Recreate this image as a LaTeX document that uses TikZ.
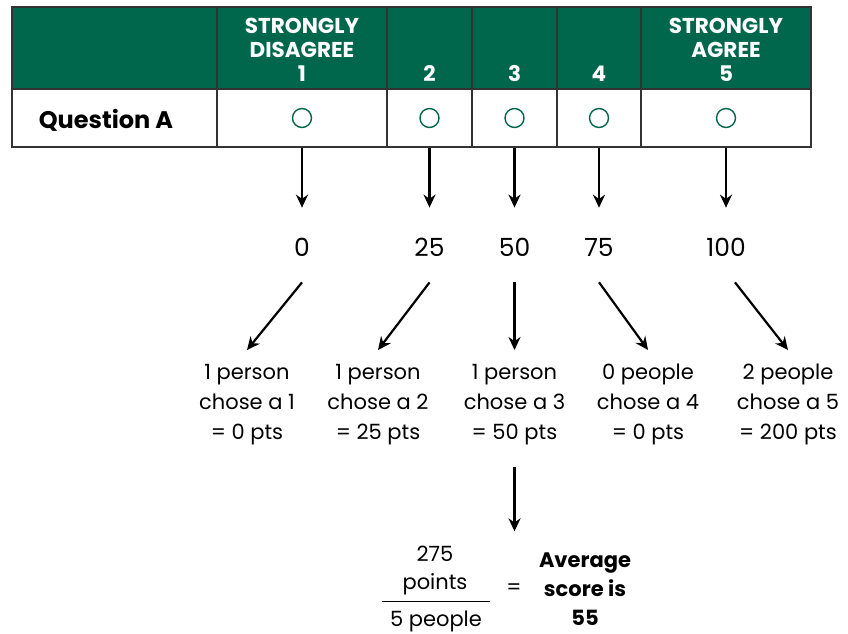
\documentclass[tikz,border=0pt]{standalone}
\usepackage{fontspec}
\setmainfont{Poppins}
\usepackage{tikz}
\usetikzlibrary{arrows.meta, positioning}
\definecolor{likertgreen}{HTML}{00674D}

\begin{document}
\begin{tikzpicture}[
  x=1pt, y=-1pt,
  every node/.style={inner sep=0pt, font=\fontsize{21}{30}\selectfont},
  headcell/.style={draw=black!80, fill=likertgreen, line width=1.2pt, minimum height=82pt},
  rowcell/.style={draw=black!80, fill=white, line width=1.2pt, minimum height=58pt},
  headtext/.style={anchor=south, text=white, align=center, font=\fontsize{21.5}{24}\selectfont\bfseries},
  dot/.style={circle, draw=likertgreen, line width=1.4pt, minimum size=19pt},
  score/.style={font=\fontsize{25}{30}\selectfont},
  tally/.style={anchor=north, align=center},
  arrow/.style={-{Stealth[length=13pt, width=12pt]}, line width=2.2pt},
]
\useasboundingbox (0,0) rectangle (848,633);

% Table cells
\foreach \i/\cx/\w in {0/114.5/205pt, 1/302/170pt, 2/429.5/85pt, 3/514.5/85pt, 4/599/84pt, 5/726/170pt} {
  \node[headcell, minimum width=\w] (h\i) at (\cx, 48) {};
  \node[rowcell, minimum width=\w] (q\i) at (\cx, 118) {};
}

% Header labels
\node[headtext] (l1) at (302, 82) {STRONGLY\\DISAGREE\\1};
\node[headtext] (l2) at (429.5, 82) {2};
\node[headtext] (l3) at (514.5, 82) {3};
\node[headtext] (l4) at (599, 82) {4};
\node[headtext] (l5) at (726, 82) {STRONGLY\\AGREE\\5};

% Row
\node[font=\fontsize{24}{28}\selectfont\bfseries] (qa) at (106, 120) {Question A};
\foreach \i in {1,...,5}
  \node[dot] (d\i) at (q\i) {};

% Scores
\foreach \i/\cx/\v in {1/302/0, 2/429.5/25, 3/514.5/50, 4/599/75, 5/726/100}
  \node[score] (n\i) at (\cx, 247) {\v};
\foreach \i in {1,...,5}
  \draw[arrow, shorten >=30pt] (q\i.south) -- (n\i.north);

% Tallies
\node[tally] (t1) at (247, 364) {1 person\\chose a 1\\= 0 pts};
\node[tally] (t2) at (378, 364) {1 person\\chose a 2\\= 25 pts};
\node[tally] (t3) at (514.5, 364) {1 person\\chose a 3\\= 50 pts};
\node[tally] (t4) at (648, 364) {0 people\\chose a 4\\= 0 pts};
\node[tally] (t5) at (788, 364) {2 people\\chose a 5\\= 200 pts};

\draw[arrow] ([yshift=-26pt]n1.south) -- ([yshift=14pt]t1.north);
\draw[arrow] ([yshift=-26pt]n2.south) -- ([yshift=14pt]t2.north);
\draw[arrow] ([yshift=-26pt]n3.south) -- ([yshift=14pt]t3.north);
\draw[arrow] ([yshift=-26pt]n4.south) -- ([yshift=14pt]t4.north);
\draw[arrow] ([xshift=9pt, yshift=-26pt]n5.south) -- ([yshift=14pt]t5.north);

% Average
\node[align=center, font=\fontsize{21}{28}\selectfont] (num) at (435, 570) {275\\points};
\node[minimum width=108pt] (den) at (436, 621) {5 people};
\draw[line width=1pt] ([yshift=9pt]den.north west) -- ([yshift=9pt]den.north east);
\node (eq) at (514, 589) {=};
\node[align=center, font=\fontsize{21}{29}\selectfont\bfseries] (avg) at (585, 589) {Average\\score is\\55};

\draw[arrow] ([yshift=-22pt]t3.south) -- ([yshift=14pt]t3.south |- num.north);
\end{tikzpicture}
\end{document}
